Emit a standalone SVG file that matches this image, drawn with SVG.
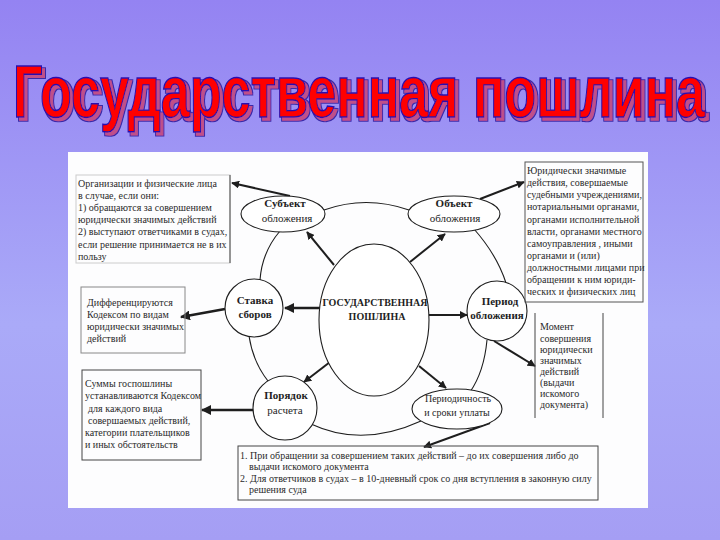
<svg xmlns="http://www.w3.org/2000/svg" width="720" height="540" viewBox="0 0 720 540">
<defs>
<linearGradient id="bg" x1="0" y1="0" x2="0" y2="1">
<stop offset="0" stop-color="#9483f2"/>
<stop offset="0.6" stop-color="#aaaaf8"/>
<stop offset="1" stop-color="#a59ef4"/>
</linearGradient>
<filter id="shadow" filterUnits="userSpaceOnUse" x="0" y="30" width="720" height="120">
<feMorphology in="SourceAlpha" operator="dilate" radius="0.6" result="a"/>
<feOffset in="a" dx="3" dy="3" result="o"/>
<feFlood flood-color="#3a2aa8" result="c1"/>
<feComposite in="c1" in2="o" operator="in" result="s1"/>
<feOffset in="SourceAlpha" dx="3" dy="3" result="o2"/>
<feFlood flood-color="#c0508a" result="c2"/>
<feComposite in="c2" in2="o2" operator="in" result="s2"/>
<feMerge>
<feMergeNode in="s1"/>
<feMergeNode in="s2"/>
<feMergeNode in="SourceGraphic"/>
</feMerge>
</filter>
<marker id="ah" viewBox="0 0 10 10" refX="9" refY="5" markerWidth="4" markerHeight="4" orient="auto" markerUnits="strokeWidth">
<path d="M0,0 L10,5 L0,10 z" fill="#1e1e1e"/>
</marker>
<style>
.t{font-family:"Liberation Serif","DejaVu Serif",serif;font-size:10px;fill:#2a2a2a}
.s{font-family:"Liberation Serif","DejaVu Serif",serif;font-size:10px;fill:#2a2a2a}
.n{font-family:"Liberation Serif","DejaVu Serif",serif;font-size:11px;fill:#1e1e1e;text-anchor:middle}
.b{font-weight:bold}
.box{fill:none;stroke:#555;stroke-width:1}
.node{fill:#fff;stroke:#1e1e1e;stroke-width:1.1}
.ring{fill:none;stroke:#1e1e1e;stroke-width:1.1}
.ar{stroke:#1e1e1e;stroke-width:2;fill:none;marker-end:url(#ah)}
.title{font-family:"Liberation Sans","DejaVu Sans",sans-serif;font-weight:bold;font-size:62px}
</style>
</defs>
<rect width="720" height="540" fill="url(#bg)"/>

<g id="title" filter="url(#shadow)">
<text class="title" x="0" y="0" text-anchor="middle" textLength="692" lengthAdjust="spacingAndGlyphs" transform="translate(359,117) scale(1,1.2)" fill="#ff0000" stroke="#2a10b0" stroke-width="1.2">Государственная пошлина</text>
</g>

<rect id="panel" x="68" y="152" width="580" height="356" fill="#fdfdfe"/>

<g id="connectors">
<path class="ring" d="M324,210 Q366,195 409,210"/>
<path class="ring" d="M280,231 Q262,252 260,280"/>
<path class="ring" d="M249,336 Q253,362 268,381"/>
<path class="ring" d="M311,424 Q362,448 421,421"/>
<path class="ring" d="M487,340 Q484,372 470,392"/>
<path class="ring" d="M474,229 Q497,255 506,283"/>
<line class="ar" x1="290" y1="196" x2="232" y2="183"/>
<line class="ar" x1="480" y1="199" x2="524" y2="182"/>
<line class="ar" x1="334" y1="265" x2="307" y2="232"/>
<line class="ar" x1="410" y1="262" x2="445" y2="234"/>
<line class="ar" x1="320" y1="308" x2="285" y2="308" style="stroke-width:2.5"/>
<line class="ar" x1="225" y1="309" x2="181" y2="317" style="stroke-width:2.5"/>
<line class="ar" x1="429" y1="315" x2="467" y2="315"/>
<line class="ar" x1="494" y1="341" x2="535" y2="366"/>
<line class="ar" x1="330" y1="362" x2="304" y2="382"/>
<line class="ar" x1="419" y1="366" x2="446" y2="388"/>
<line class="ar" x1="253" y1="410" x2="202" y2="410" style="stroke-width:2.5"/>
<line class="ar" x1="490" y1="423" x2="424" y2="447"/>
</g>

<g id="center">
<ellipse class="node" cx="374" cy="320" rx="55" ry="76"/>
<text class="n b" style="font-size:10px" x="375" y="306">ГОСУДАРСТВЕННАЯ</text>
<text class="n b" style="font-size:10px" x="377" y="320">ПОШЛИНА</text>
</g>

<g id="subject">
<ellipse class="node" cx="283" cy="214" rx="42" ry="18"/>
<text class="n b" x="285" y="207">Субъект</text>
<text class="n" x="287" y="222">обложения</text>
</g>

<g id="object">
<ellipse class="node" cx="454" cy="214" rx="46" ry="18"/>
<text class="n b" x="454" y="207">Объект</text>
<text class="n" x="455" y="222">обложения</text>
</g>

<g id="stavka">
<circle class="node" cx="254" cy="308" r="29"/>
<text class="n b" x="255" y="304">Ставка</text>
<text class="n b" x="255" y="318">сборов</text>
</g>

<g id="period">
<circle class="node" cx="497" cy="311" r="30"/>
<text class="n b" x="500" y="305">Период</text>
<text class="n b" x="497" y="319">обложения</text>
</g>

<g id="poryadok">
<circle class="node" cx="285" cy="408" r="32"/>
<text class="n b" x="286" y="399">Порядок</text>
<text class="n" x="285" y="414">расчета</text>
</g>

<g id="periodichnost">
<ellipse class="node" cx="457" cy="409" rx="45" ry="20"/>
<text class="n" style="font-size:10px" x="458" y="402">Периодичность</text>
<text class="n" style="font-size:10px" x="457" y="416">и сроки уплаты</text>
</g>

<g id="box-subject">
<rect class="box" x="76" y="175" width="154" height="88" style="stroke:#ccc"/>
<line x1="230" y1="175" x2="230" y2="263" stroke="#444" stroke-width="1"/>
<text class="t" x="78" y="187">Организации и физические лица</text>
<text class="t" x="78" y="199">в случае, если они:</text>
<text class="t" x="78" y="211">1) обращаются за совершением</text>
<text class="t" x="78" y="223">юридически значимых действий</text>
<text class="t" x="78" y="235">2) выступают ответчиками в судах,</text>
<text class="t" x="78" y="248">если решение принимается не в их</text>
<text class="t" x="78" y="260">пользу</text>
</g>

<g id="box-object">
<rect class="box" x="525" y="162" width="118" height="140"/>
<text class="t" x="527" y="174">Юридически значимые</text>
<text class="t" x="527" y="186">действия, совершаемые</text>
<text class="t" x="527" y="198">судебными учреждениями,</text>
<text class="t" x="527" y="210">нотариальными органами,</text>
<text class="t" x="527" y="223">органами исполнительной</text>
<text class="t" x="527" y="235">власти, органами местного</text>
<text class="t" x="527" y="247">самоуправления , иными</text>
<text class="t" x="527" y="259">органами и (или)</text>
<text class="t" x="527" y="271">должностными лицами при</text>
<text class="t" x="527" y="283">обращении к ним юриди-</text>
<text class="t" x="527" y="295">ческих и физических лиц</text>
</g>

<g id="box-stavka">
<rect class="box" x="81" y="287" width="104" height="66" style="stroke:#888"/>
<text class="t" x="87" y="306">Дифференцируются</text>
<text class="t" x="87" y="318">Кодексом по видам</text>
<text class="t" x="87" y="330">юридически значимых</text>
<text class="t" x="87" y="342">действий</text>
</g>

<g id="box-poryadok">
<rect class="box" x="82" y="370" width="119" height="90" style="stroke:#444"/>
<text class="t" x="85" y="387">Суммы госпошлины</text>
<text class="t" x="85" y="399">устанавливаются Кодексом</text>
<text class="t" x="88" y="412">для каждого вида</text>
<text class="t" x="88" y="424">совершаемых действий,</text>
<text class="t" x="85" y="436">категории плательщиков</text>
<text class="t" x="85" y="448">и иных обстоятельств</text>
</g>

<g id="box-period">
<line x1="535" y1="313" x2="535" y2="418" stroke="#444" stroke-width="1"/>
<line x1="603" y1="313" x2="603" y2="418" stroke="#444" stroke-width="1"/>
<text class="t" x="540" y="330">Момент</text>
<text class="t" x="540" y="342">совершения</text>
<text class="t" x="540" y="353">юридически</text>
<text class="t" x="540" y="364">значимых</text>
<text class="t" x="540" y="375">действий</text>
<text class="t" x="540" y="386">(выдачи</text>
<text class="t" x="540" y="397">искомого</text>
<text class="t" x="540" y="408">документа)</text>
</g>

<g id="box-periodichnost">
<rect class="box" x="238" y="446" width="360" height="54" style="stroke:#444"/>
<text class="s" x="240" y="459">1. При обращении за совершением таких действий – до их совершения либо до</text>
<text class="s" x="249" y="470">выдачи искомого документа</text>
<text class="s" x="240" y="482">2. Для ответчиков в судах – в 10-дневный срок со дня вступления в законную силу</text>
<text class="s" x="249" y="493">решения суда</text>
</g>
</svg>
